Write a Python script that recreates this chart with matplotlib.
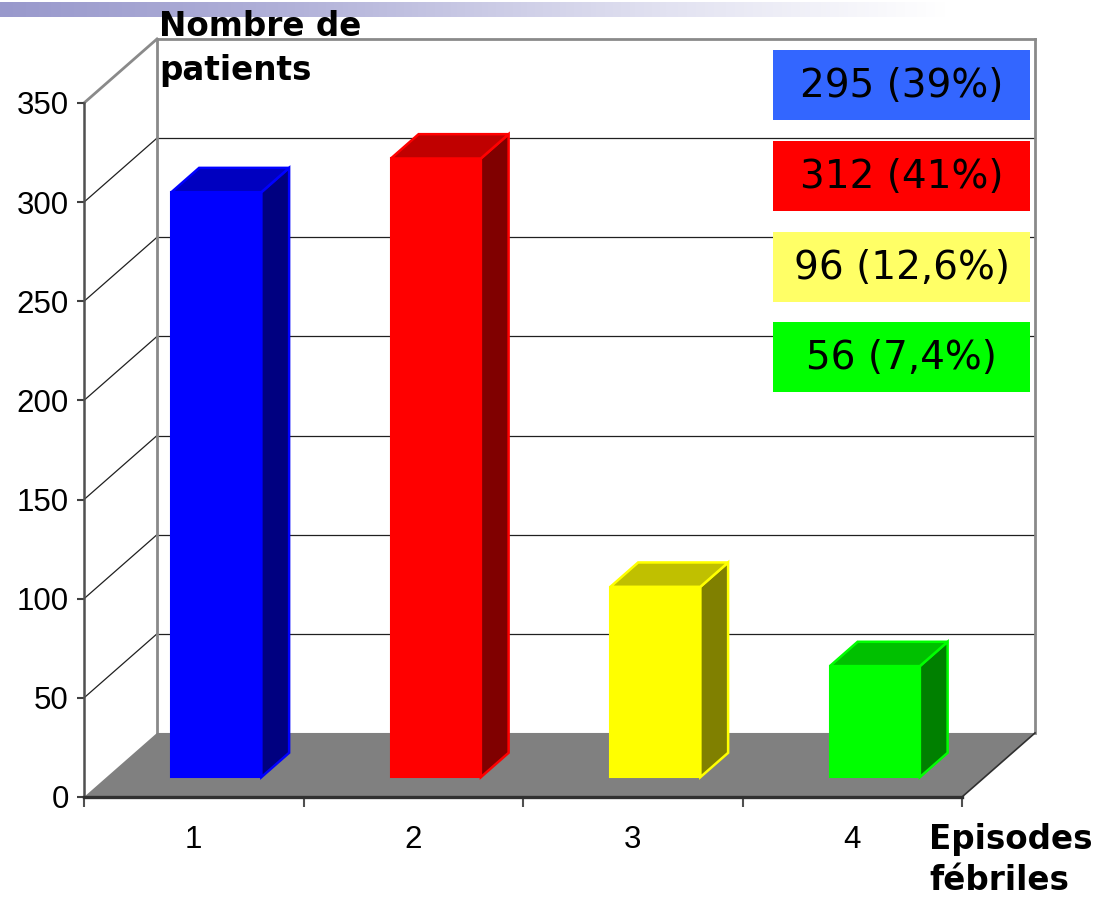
import numpy as np
import matplotlib
matplotlib.use("Agg")
import matplotlib.pyplot as plt
from matplotlib.patches import Polygon, Rectangle
from matplotlib.colors import LinearSegmentedColormap

# Episodes fébriles par patient
episodes = [1, 2, 3, 4]
patients = [295, 312, 96, 56]
percents = ["39%", "41%", "12,6%", "7,4%"]
legend_labels = [f"{n} ({p})" for n, p in zip(patients, percents)]

front_cols = ["#0000FF", "#FF0000", "#FFFF00", "#00FF00"]
top_cols = ["#0000C0", "#C00000", "#C0C000", "#00C000"]
side_cols = ["#000080", "#800000", "#808000", "#008000"]
legend_cols = ["#3366FF", "#FF0000", "#FFFF66", "#00FF00"]

yticks = list(range(0, 351, 50))

W, H = 1113, 898
fig = plt.figure(figsize=(W / 100, H / 100), dpi=100)
fig.patch.set_facecolor("white")

# overlay for page decorations (gradient strip, legend boxes, titles)
deco = fig.add_axes([0, 0, 1, 1], zorder=0)
deco.set_xlim(0, W)
deco.set_ylim(H, 0)
deco.axis("off")

strip = LinearSegmentedColormap.from_list(
    "strip", [(0.0, "#9999CC"), (0.25, "#B0B0D8"), (0.6, "#E2E2F1"), (0.85, "#FFFFFF"), (1.0, "#FFFFFF")])
grad = np.linspace(0, 1, 512)[None, :]
deco.imshow(grad, cmap=strip, extent=(0, W, 17, 2), aspect="auto", zorder=0)

# main chart: front plane in data units
ax = fig.add_axes([84 / W, (H - 797) / H, (962 - 84) / W, (797 - 103) / H], zorder=1)
ax.patch.set_visible(False)
ax.set_xlim(0.5, 4.5)
ax.set_ylim(0, 350)

# depth vector (category units, patient units)
DX, DY = 0.3326, 32.3
x0, x1 = 0.5, 4.5
ymax = yticks[-1]

# back wall
ax.add_patch(Rectangle((x0 + DX, DY), x1 - x0, ymax, facecolor="white",
                       edgecolor="none", zorder=0, clip_on=False))
for v in yticks[1:-1]:
    ax.plot([x0 + DX, x1 + DX], [v + DY, v + DY], color="#202020", lw=0.9,
            zorder=1, clip_on=False)
    ax.plot([x0, x0 + DX], [v, v + DY], color="#202020", lw=0.9,
            zorder=1, clip_on=False)
wall_kw = dict(color="#8A8A8A", lw=2.0, zorder=1.5, clip_on=False,
               solid_capstyle="projecting")
ax.plot([x0 + DX, x1 + DX], [ymax + DY, ymax + DY], **wall_kw)
ax.plot([x0 + DX, x0 + DX], [DY, ymax + DY], **wall_kw)
ax.plot([x1 + DX, x1 + DX], [DY, ymax + DY], **wall_kw)
ax.plot([x0, x0 + DX], [ymax, ymax + DY], **wall_kw)

# floor
ax.add_patch(Polygon([(x0, 0), (x1, 0), (x1 + DX, DY), (x0 + DX, DY)],
                     closed=True, facecolor="#808080", edgecolor="none",
                     zorder=2, clip_on=False))
ax.plot([x1, x1 + DX], [0, DY], color="#303030", lw=1.2, zorder=2.1, clip_on=False)

# bars
w = 0.41
f0, f1 = 0.31, 0.69
ox, oy = f0 * DX, f0 * DY
ddx, ddy = (f1 - f0) * DX, (f1 - f0) * DY
xs = np.array(episodes, dtype=float)
ax.bar(xs + ox, patients, width=w, bottom=oy, color=front_cols,
       edgecolor=front_cols, linewidth=1.5, zorder=3, clip_on=False)
for x, v, fc, tc, sc in zip(xs, patients, front_cols, top_cols, side_cols):
    xl = x - w / 2 + ox
    xr = x + w / 2 + ox
    side = [(xr, oy), (xr + ddx, oy + ddy), (xr + ddx, oy + ddy + v), (xr, oy + v)]
    top = [(xl, oy + v), (xr, oy + v), (xr + ddx, oy + ddy + v), (xl + ddx, oy + ddy + v)]
    ax.add_patch(Polygon(side, closed=True, facecolor=sc, edgecolor=fc,
                         lw=1.8, zorder=3, clip_on=False, joinstyle="miter"))
    ax.add_patch(Polygon(top, closed=True, facecolor=tc, edgecolor=fc,
                         lw=1.8, zorder=3, clip_on=False, joinstyle="miter"))

# axes
for s in ("top", "right"):
    ax.spines[s].set_visible(False)
ax.spines["left"].set_color("#505050")
ax.spines["left"].set_linewidth(1.8)
ax.spines["bottom"].set_color("#303030")
ax.spines["bottom"].set_linewidth(2.4)
ax.spines["left"].set_zorder(4)
ax.spines["bottom"].set_zorder(4)

tick_font = dict(family=["Liberation Sans", "DejaVu Sans"], size=22.5)
ax.set_yticks(yticks)
ax.set_yticklabels([str(v) for v in yticks], fontdict=tick_font)
ax.tick_params(axis="y", length=5, width=1.5, color="#404040", pad=6)
ax.set_xticks(episodes)
ax.set_xticklabels([str(e) for e in episodes], fontdict=tick_font)
ax.set_xticks(np.arange(0.5, 4.6, 1.0), minor=True)
ax.tick_params(axis="x", which="major", length=0, pad=20)
ax.tick_params(axis="x", which="minor", length=7, width=1.5, color="#505050",
               direction="out")

# axis titles
title_font = dict(family=["DejaVu Sans"], weight="bold", size=23.5, color="black")
deco.text(159, 10, "Nombre de\npatients", ha="left", va="top",
          linespacing=1.42, zorder=5, **title_font)
deco.text(929, 823, "Episodes\nfébriles", ha="left", va="top",
          linespacing=1.32, zorder=5, **title_font)

# value boxes
box_x0, box_x1 = 773, 1030
box_tops = [50, 141, 232, 322]
box_h = 70
for top_y, col, lab in zip(box_tops, legend_cols, legend_labels):
    deco.add_patch(Rectangle((box_x0, top_y), box_x1 - box_x0, box_h,
                             facecolor=col, edgecolor="none", zorder=6))
    deco.text((box_x0 + box_x1) / 2, top_y + box_h / 2 + 1, lab, ha="center",
              va="center", fontsize=28, family=["DejaVu Sans"], color="black",
              zorder=7)
deco.set_zorder(2)
deco.patch.set_visible(False)

fig.savefig("out.png", dpi=100)
